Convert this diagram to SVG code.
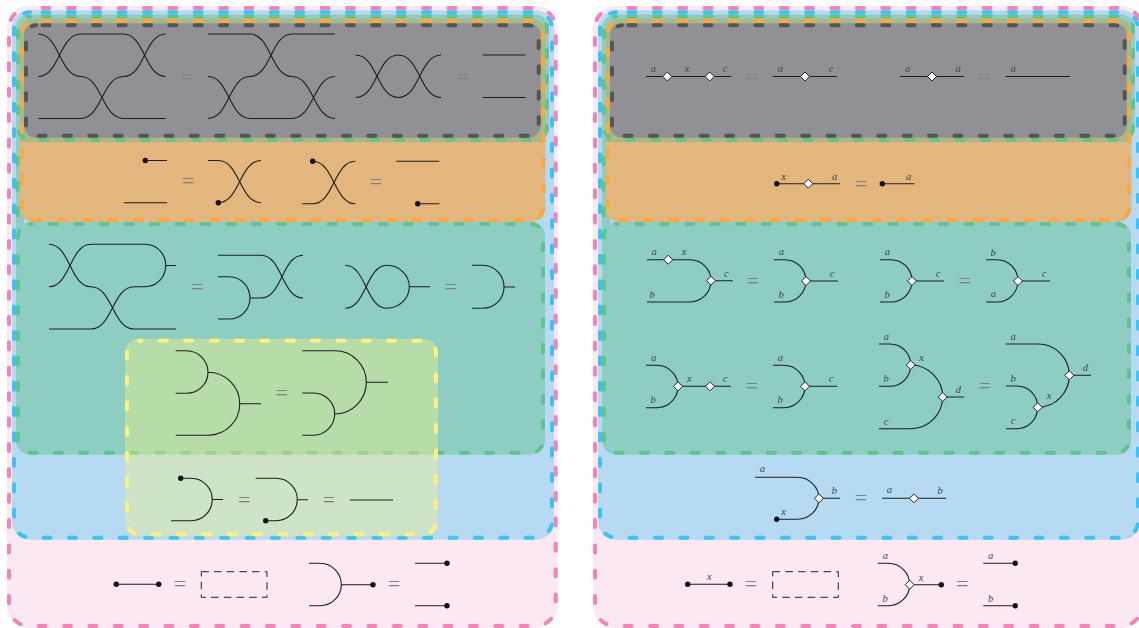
<svg xmlns="http://www.w3.org/2000/svg" width="1139" height="628" viewBox="0 0 1139 628">
<style>
.d{fill:none;stroke-width:4;stroke-linecap:round;stroke-dasharray:7 18.37}
.w{fill:none;stroke:#1c1c1c;stroke-width:1.1}
.e{font-family:"Liberation Serif",serif;font-size:22px;fill:#808080;text-anchor:middle;transform:translateY(2px)}
.l{font-family:"Liberation Serif",serif;font-style:italic;font-size:10.5px;fill:#444;text-anchor:middle}
.dot{fill:#111}
.dia{fill:#fff;stroke:#222;stroke-width:1}
.box{fill:none;stroke:#222;stroke-width:1;stroke-dasharray:7.5 5.2}
</style>
<defs>
<path id="n" class="dia" d="M0-4.5L4.5 0L0 4.5L-4.5 0Z"/>
<circle id="p" class="dot" r="2.7"/>
<g id="frame">
<rect x="7" y="6" width="550.7" height="622" rx="22" fill="#fbe8f2"/>
<rect x="12" y="10.3" width="542" height="529.4" rx="18" fill="#b5daf2"/>
<rect x="16" y="14.5" width="533" height="127.5" rx="14" fill="#8ecec2"/>
<rect x="16" y="130" width="8" height="100" fill="#8ecec2"/>
<rect x="16" y="222" width="529" height="232.7" rx="14" fill="#8ecec2"/>
<rect x="19.7" y="18.8" width="525.6" height="203.2" rx="14" fill="#e2b67c"/>
<path d="M19.7 142V32.8a14 14 0 0 1 14-14H531.3a14 14 0 0 1 14 14V142Z" fill="#a9b985"/>
<rect x="24" y="23.3" width="516.7" height="114.4" rx="12" fill="#919195"/>
<rect class="d" x="9" y="8" width="546.7" height="618" rx="20" stroke="#f285b5" stroke-dashoffset="-13.5"/>
<rect class="d" x="14" y="12.3" width="538" height="525.4" rx="16" stroke="#39c4f5" stroke-dashoffset="-12.5"/>
<rect class="d" x="18" y="16.5" width="529" height="123.2" rx="12" stroke="#5fc48d" stroke-dashoffset="-12.5"/>
<path class="d" d="M17.6 148V218" stroke="#5fc48d" stroke-dashoffset="-9.5"/>
<rect class="d" x="18" y="224" width="525" height="228.7" rx="12" stroke="#5fc48d" stroke-dashoffset="-19.8"/>
<rect class="d" x="21.7" y="20.8" width="521.6" height="199.2" rx="12" stroke="#fba83f" stroke-dashoffset="-8.8"/>
<rect class="d" x="26" y="25.3" width="512.7" height="110.4" rx="10" stroke="#555" stroke-dashoffset="-6.5"/>
</g>
</defs>

<g id="panel-left-frame"><use href="#frame"/></g>
<g id="panel-right-frame"><use href="#frame" x="586"/></g>
<g id="yellow-region">
<rect x="125" y="338.7" width="313" height="197.6" rx="14" fill="#fff87a" fill-opacity=".36"/>
<rect class="d" x="127" y="340.7" width="309" height="193.6" rx="12" stroke="#fff07a" stroke-dashoffset="-20.8"/>
</g>

<g id="left-gray">
<path class="w" d="M38.3 34C59.5 34 59.5 76.5 80.7 76.5C102 76.5 102 118.5 123.5 118.5H165.7M38.3 76.5C59.5 76.5 59.5 34 80.7 34H123.5C144.6 34 144.6 76.5 165.7 76.5M38.3 118.5H80.7C102 118.5 102 76.5 123.5 76.5C144.6 76.5 144.6 34 165.7 34"/>
<text class="e" x="186" y="81.8">=</text>
<path class="w" d="M208 34H250C271 34 271 76.5 292 76.5C313.5 76.5 313.5 118.5 335 118.5M208 76.5C229 76.5 229 118.5 250 118.5H292C313.5 118.5 313.5 76.5 335 76.5M208 118.5C229 118.5 229 76.5 250 76.5C271 76.5 271 34 292 34H335"/>
<path class="w" d="M355.7 97.5C377 97.5 377 55 398.3 55C419.7 55 419.7 97.5 441 97.5M355.7 55C377 55 377 97.5 398.3 97.5C419.7 97.5 419.7 55 441 55"/>
<text class="e" x="463.3" y="81.8">=</text>
<path class="w" d="M482.7 55H525.7M482.7 97.5H525.7"/>
</g>
<g id="left-orange">
<use href="#p" x="145.3" y="160.5"/>
<path class="w" d="M145.3 160.5H167M124 202.7H167"/>
<text class="e" x="188" y="186.3">=</text>
<path class="w" d="M208 160.5H218.3C239.6 160.5 239.6 202.7 261 202.7M218.3 202.7C239.6 202.7 239.6 160.5 261 160.5"/>
<use href="#p" x="218.3" y="202.7"/>
<use href="#p" x="312.7" y="161.3"/>
<path class="w" d="M312.7 161.3C334 161.3 334 203.7 355.3 203.7M302.3 203.7H312.7C334 203.7 334 161.3 355.3 161.3"/>
<text class="e" x="375.7" y="187.3">=</text>
<path class="w" d="M396.3 161.3H439.3M417.7 203.7H439.3"/>
<use href="#p" x="417.7" y="203.7"/>
</g>
<g id="left-teal">
<path class="w" d="M49 244.3C70 244.3 70 286.7 91 286.7C112.5 286.7 112.5 329 134 329H176M49 286.7C70 286.7 70 244.3 91 244.3H145C157 244.3 165.7 254 165.7 265.5C165.7 277 157 286.7 145 286.7H134C112.5 286.7 112.5 329 91 329H49M165.7 265.5H176"/>
<text class="e" x="197" y="291.6">=</text>
<path class="w" d="M218 255.3H261C282 255.3 282 298 303 298M218 276.7H229C241 276.7 250 286.5 250 298C250 309.5 241 319 229 319H218M250 298H261C282 298 282 255.3 303 255.3"/>
<path class="w" d="M345.3 308.3C366 308.3 366 265.3 387 265.3C399 265.3 409.3 275 409.3 286.7C409.3 298.5 399 308.3 387 308.3C366 308.3 366 265.3 345.3 265.3M409.3 286.7H430"/>
<text class="e" x="451" y="291.6">=</text>
<path class="w" d="M472 265.3H482.7C494.5 265.3 504 275 504 287C504 299 494.5 308.3 482.7 308.3H472M504 287H515"/>
</g>
<g id="left-yellow">
<path class="w" d="M175.7 350.7H186.7C198.3 350.7 208 360.5 208 372.3C208 384 198.3 393.3 186.7 393.3H175.7M208 372.3C226 372.3 239.7 387 239.7 403.7C239.7 421 226 435.3 208 435.3H175.7M239.7 403.7H261"/>
<text class="e" x="281.7" y="397.6">=</text>
<path class="w" d="M302.3 350.7H335C352.5 350.7 366.3 365 366.3 382.3C366.3 399.5 352.5 414 334.7 414M366.3 382.3H388M302.3 393H313.5C325 393 334.7 402.5 334.7 414C334.7 425.5 325 435.3 313.5 435.3H302.3"/>
<use href="#p" x="180.7" y="478.3"/>
<path class="w" d="M180.7 478.3H191C203 478.3 212.3 488 212.3 499.5C212.3 511 203 520.7 191 520.7H171M212.3 499.5H223"/>
<text class="e" x="244.3" y="504.6">=</text>
<path class="w" d="M255.7 478.3H276C288 478.3 297.3 488 297.3 499.7C297.3 511 288 520.7 276 520.7H265.7M297.3 499.7H308"/>
<use href="#p" x="265.7" y="520.7"/>
<text class="e" x="329" y="504.6">=</text>
<path class="w" d="M350 500H393"/>
</g>
<g id="left-pink">
<path class="w" d="M116.3 584.3H158.7"/>
<use href="#p" x="116.3" y="584.3"/><use href="#p" x="158.7" y="584.3"/>
<text class="e" x="180" y="589.3">=</text>
<rect class="box" x="201.3" y="571.7" width="65.7" height="25.6"/>
<path class="w" d="M309 563.3H320C332 563.3 341.3 573 341.3 584.7C341.3 596 332 605.7 320 605.7H309M341.3 584.7H373"/>
<use href="#p" x="373" y="584.7"/>
<text class="e" x="394" y="589.3">=</text>
<path class="w" d="M415 563.3H447M415 605.7H447"/>
<use href="#p" x="447" y="563.3"/><use href="#p" x="447" y="605.7"/>
</g>

<g id="right-gray">
<path class="w" d="M646 76.5H731"/><use href="#n" x="667.3" y="76.5"/><use href="#n" x="709.7" y="76.5"/>
<text class="l" x="653.3" y="71.8">a</text><text class="l" x="687" y="71.8">x</text><text class="l" x="725" y="71.8">c</text>
<text class="e" x="751.7" y="81.8">=</text>
<path class="w" d="M773 76.5H837"/><use href="#n" x="805" y="76.5"/>
<text class="l" x="780.3" y="71.8">a</text><text class="l" x="831" y="71.8">c</text>
<path class="w" d="M900 76.5H964"/><use href="#n" x="932" y="76.5"/>
<text class="l" x="907.5" y="71.8">a</text><text class="l" x="958" y="71.8">a</text>
<text class="e" x="984" y="81.8">=</text>
<path class="w" d="M1005.7 76.5H1070"/>
<text class="l" x="1013" y="71.8">a</text>
</g>
<g id="right-orange">
<path class="w" d="M776.7 183.7H840"/><use href="#p" x="776.7" y="183.7"/><use href="#n" x="808.3" y="183.7"/>
<text class="l" x="783.7" y="179.8">x</text><text class="l" x="834.7" y="179.8">a</text>
<text class="e" x="861" y="188.8">=</text>
<path class="w" d="M882.3 183.7H914.3"/><use href="#p" x="882.3" y="183.7"/>
<text class="l" x="908.7" y="179.8">a</text>
</g>
<g id="right-teal">
<path class="w" d="M647 259.7H690C701.6 259.7 711 269.3 711 280.7C711 292.4 701.6 302 690 302H647M711 280.7H732.7"/>
<use href="#n" x="668.3" y="259.7"/><use href="#n" x="711" y="280.7"/>
<text class="l" x="654" y="254.5">a</text><text class="l" x="684" y="254.5">x</text><text class="l" x="726.3" y="276.8">c</text><text class="l" x="652" y="298.2">b</text>
<text class="e" x="753" y="285.5">=</text>
<path class="w" d="M774 259.7H785C796.6 259.7 806 269.3 806 281C806 292.4 796.6 302 785 302H774M806 281H838"/>
<use href="#n" x="806" y="281"/>
<text class="l" x="781.3" y="254.5">a</text><text class="l" x="781" y="298.2">b</text><text class="l" x="832" y="276.8">c</text>

<path class="w" d="M880 259.7H891C902.6 259.7 912 269.3 912 281C912 292.4 902.6 302 891 302H880M912 281H944"/>
<use href="#n" x="912" y="281"/>
<text class="l" x="887.3" y="255">a</text><text class="l" x="887" y="298.2">b</text><text class="l" x="938" y="277.2">c</text>
<text class="e" x="964.7" y="285.5">=</text>
<path class="w" d="M986 259.7H997C1008.6 259.7 1018 269.3 1018 281C1018 292.4 1008.6 302 997 302H986M1018 281H1050"/>
<use href="#n" x="1018" y="281"/>
<text class="l" x="993" y="256">b</text><text class="l" x="993.3" y="297.3">a</text><text class="l" x="1044" y="277.2">c</text>

<path class="w" d="M646 365.3H657C668.6 365.3 678 375 678 386.3C678 398 668.6 407.7 657 407.7H646M678 386.3H731"/>
<use href="#n" x="678" y="386.3"/><use href="#n" x="710" y="386.3"/>
<text class="l" x="653.7" y="360.6">a</text><text class="l" x="653" y="403.2">b</text><text class="l" x="689.3" y="382">x</text><text class="l" x="725" y="382">c</text>
<text class="e" x="751.7" y="391.3">=</text>
<path class="w" d="M773 365.3H784C795.6 365.3 805 375 805 386.3C805 398 795.6 407.7 784 407.7H773M805 386.3H837"/>
<use href="#n" x="805" y="386.3"/>
<text class="l" x="780.3" y="360.6">a</text><text class="l" x="780" y="403.2">b</text><text class="l" x="831" y="382">c</text>

<path class="w" d="M879 344H890C901.6 344 910.7 353.5 910.7 365C910.7 376.7 901.6 386.3 890 386.3H879M910.7 365C928 365 942.7 379.5 942.7 397C942.7 414.5 928 428.7 911 428.7H879M942.7 397H964"/>
<use href="#n" x="910.7" y="365"/><use href="#n" x="942.7" y="397"/>
<text class="l" x="886.3" y="339.6">a</text><text class="l" x="886" y="382.4">b</text><text class="l" x="886" y="424.6">c</text><text class="l" x="921.7" y="360.6">x</text><text class="l" x="958.3" y="393.4">d</text>
<text class="e" x="984.7" y="391.3">=</text>
<path class="w" d="M1006 344H1038C1055.3 344 1069.3 358 1069.3 375.3C1069.3 392.8 1055.3 407.3 1037.7 407.3M1069.3 375.3H1091M1006 386H1017C1028.5 386 1037.7 395.5 1037.7 407.3C1037.7 419 1028.5 428.7 1017 428.7H1006"/>
<use href="#n" x="1037.7" y="407.3"/><use href="#n" x="1069.3" y="375.3"/>
<text class="l" x="1013" y="339.6">a</text><text class="l" x="1013" y="382.4">b</text><text class="l" x="1013" y="423.6">c</text><text class="l" x="1049" y="399">x</text><text class="l" x="1085.3" y="371.1">d</text>
</g>
<g id="right-blue">
<path class="w" d="M755 477.3H797.5C809 477.3 819 487 819 498.3C819 510 809 519.3 797.5 519.3H776.7M819 498.3H840"/>
<use href="#p" x="776.7" y="519.3"/><use href="#n" x="819" y="498.3"/>
<text class="l" x="762.3" y="472.3">a</text><text class="l" x="783.7" y="514.6">x</text><text class="l" x="834.3" y="494.1">b</text>
<text class="e" x="861" y="503.3">=</text>
<path class="w" d="M882 498.3H946"/><use href="#n" x="914" y="498.3"/>
<text class="l" x="889.3" y="493">a</text><text class="l" x="940" y="494.1">b</text>
</g>
<g id="right-pink">
<path class="w" d="M687.7 584.3H730"/>
<use href="#p" x="687.7" y="584.3"/><use href="#p" x="730" y="584.3"/>
<text class="l" x="709.3" y="579.6">x</text>
<text class="e" x="751" y="589.3">=</text>
<rect class="box" x="772.7" y="571.7" width="65.6" height="25.6"/>
<path class="w" d="M877.7 563.3H888.5C900 563.3 909.7 573 909.7 584.7C909.7 596 900 605.7 888.5 605.7H877.7M909.7 584.7H941.3"/>
<use href="#n" x="909.7" y="584.7"/><use href="#p" x="941.3" y="584.7"/>
<text class="l" x="885.3" y="558.6">a</text><text class="l" x="885" y="602.1">b</text><text class="l" x="921" y="580.6">x</text>
<text class="e" x="962.3" y="589.3">=</text>
<path class="w" d="M983.3 563.3H1015.3M983.3 605.7H1015.3"/>
<use href="#p" x="1015.3" y="563.3"/><use href="#p" x="1015.3" y="605.7"/>
<text class="l" x="990.7" y="558.6">a</text><text class="l" x="990.7" y="602.1">b</text>
</g>
</svg>
